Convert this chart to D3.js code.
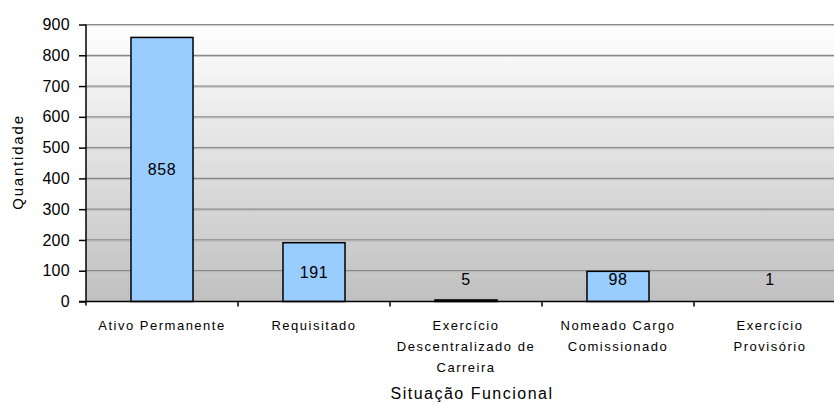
<!DOCTYPE html>
<html>
<head>
<meta charset="utf-8">
<script src="https://cdn.jsdelivr.net/npm/d3@7"></script>
<style>
  html, body { margin: 0; padding: 0; background: #fff; }
  svg { display: block; font-family: "Liberation Sans", Arial, sans-serif; }
</style>
</head>
<body>
<svg id="chart" width="834" height="405"></svg>
<script>
// Servidores por situação funcional
const categories = [
  ["Ativo Permanente"],
  ["Requisitado"],
  ["Exercício", "Descentralizado de", "Carreira"],
  ["Nomeado Cargo", "Comissionado"],
  ["Exercício", "Provisório"]
];
const values = [858, 191, 5, 98, 1];
const yTicks = [0, 100, 200, 300, 400, 500, 600, 700, 800, 900];
const yTitle = "Quantidade";
const xTitle = "Situação Funcional";

const svg = d3.select("#chart");
const plot = { left: 86, right: 846, top: 24.5, bottom: 301.5 };

const x = d3.scaleBand()
  .domain(d3.range(values.length))
  .range([plot.left, plot.right])
  .paddingInner(0.592)
  .paddingOuter(0.296);

const y = d3.scaleLinear()
  .domain([0, 900])
  .range([plot.bottom, plot.top]);

// plot background: white fading into gray
const defs = svg.append("defs");
const grad = defs.append("linearGradient")
  .attr("id", "bg").attr("x1", 0).attr("y1", 0).attr("x2", 0).attr("y2", 1);
grad.append("stop").attr("offset", "0%").attr("stop-color", "#ffffff");
grad.append("stop").attr("offset", "100%").attr("stop-color", "#c0c0c0");

svg.append("rect")
  .attr("x", plot.left).attr("y", plot.top)
  .attr("width", plot.right - plot.left)
  .attr("height", plot.bottom - plot.top)
  .attr("fill", "url(#bg)");

// horizontal gridlines
const grid = svg.append("g");
grid.selectAll("line.g1")
  .data(yTicks.filter(d => d > 0))
  .join("line")
  .attr("x1", plot.left).attr("x2", plot.right)
  .attr("y1", d => y(d)).attr("y2", d => y(d))
  .attr("stroke", "#8a8a8a").attr("stroke-width", 1.2);
grid.selectAll("line.g2")
  .data(yTicks.filter(d => d > 0))
  .join("line")
  .attr("x1", plot.left).attr("x2", plot.right)
  .attr("y1", d => y(d) + 1.2).attr("y2", d => y(d) + 1.2)
  .attr("stroke", "#b8b8b8").attr("stroke-width", 0.8);

// bars (outline dropped when the bar is thinner than a pixel)
svg.append("g").selectAll("rect")
  .data(values)
  .join("rect")
  .attr("x", (d, i) => x(i))
  .attr("y", d => y(d))
  .attr("width", x.bandwidth())
  .attr("height", d => y(0) - y(d))
  .attr("fill", "#99ccff")
  .attr("stroke", "#000")
  .attr("stroke-width", d => (y(0) - y(d)) < 1 ? 0 : 1.5);

// value labels
svg.append("g").selectAll("text")
  .data(values)
  .join("text")
  .attr("x", (d, i) => x(i) + x.bandwidth() / 2)
  .attr("y", d => Math.min((y(d) + y(0)) / 2, y(0) - 22))
  .attr("dy", "0.36em")
  .attr("text-anchor", "middle")
  .attr("font-size", 16)
  .attr("letter-spacing", 0.6)
  .attr("fill", "#000")
  .text(d => d);

// y axis
const yAxis = svg.append("g")
  .attr("transform", `translate(${plot.left},0)`)
  .call(d3.axisLeft(y).tickValues(yTicks).tickSize(7).tickPadding(9).tickFormat(d3.format("d")));
yAxis.select(".domain").remove();
yAxis.selectAll(".tick line").attr("stroke", "#000").attr("stroke-width", 1.5);
yAxis.selectAll(".tick text")
  .attr("font-size", 16).attr("fill", "#000")
  .attr("letter-spacing", 0.3)
  .attr("font-family", "'Liberation Sans', Arial, sans-serif");
svg.append("line")
  .attr("x1", plot.left).attr("x2", plot.left)
  .attr("y1", plot.top).attr("y2", plot.bottom + 4)
  .attr("stroke", "#000").attr("stroke-width", 1.5);

// x axis baseline and category separators
svg.append("line")
  .attr("x1", plot.left - 7).attr("x2", plot.right)
  .attr("y1", plot.bottom).attr("y2", plot.bottom)
  .attr("stroke", "#000").attr("stroke-width", 1.5);
const step = x.step();
svg.append("g").selectAll("line")
  .data(d3.range(1, values.length))
  .join("line")
  .attr("x1", i => plot.left + i * step).attr("x2", i => plot.left + i * step)
  .attr("y1", plot.bottom).attr("y2", plot.bottom + 5)
  .attr("stroke", "#000").attr("stroke-width", 1.5);

// category labels
const catG = svg.append("g").selectAll("text")
  .data(categories)
  .join("text")
  .attr("text-anchor", "middle")
  .attr("font-size", 13)
  .attr("letter-spacing", 1.5)
  .attr("fill", "#000");
catG.selectAll("tspan")
  .data((lines, i) => lines.map((t, k) => ({ t, k, i })))
  .join("tspan")
  .attr("x", d => x(d.i) + x.bandwidth() / 2)
  .attr("y", d => 329.5 + d.k * 21)
  .text(d => d.t);

// axis titles
svg.append("text")
  .attr("x", 472)
  .attr("y", 399)
  .attr("text-anchor", "middle")
  .attr("font-size", 16)
  .attr("letter-spacing", 1.5)
  .attr("fill", "#000")
  .text(xTitle);

svg.append("text")
  .attr("transform", "translate(23,162) rotate(-90)")
  .attr("text-anchor", "middle")
  .attr("font-size", 15)
  .attr("letter-spacing", 1.8)
  .attr("fill", "#000")
  .text(yTitle);
</script>
</body>
</html>
